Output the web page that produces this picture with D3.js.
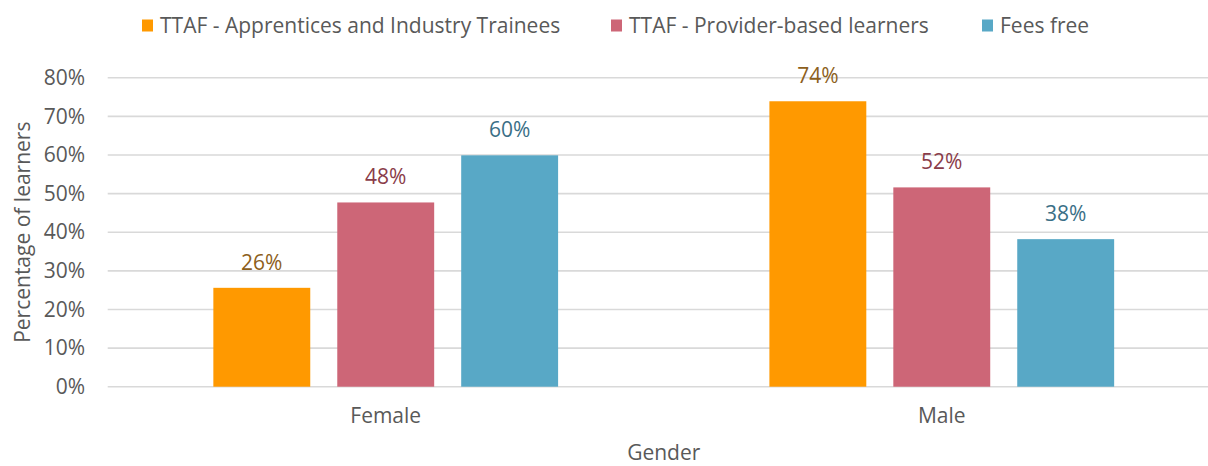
<!DOCTYPE html>
<html><head><meta charset="utf-8">
<script src="https://cdn.jsdelivr.net/npm/d3@7"></script>
<style>
html,body{margin:0;padding:0;background:#fff;}
svg{display:block;font-family:"Open Sans",sans-serif;}
</style></head>
<body><svg id="chart" width="1208" height="466"></svg>
<script>
const categories = ["Female", "Male"];
const seriesNames = ["TTAF - Apprentices and Industry Trainees", "TTAF - Provider-based learners", "Fees free"];
const apprentices = [0.256, 0.739];
const providerBased = [0.477, 0.516];
const feesFree = [0.599, 0.382];
const yTicks = [0, 0.1, 0.2, 0.3, 0.4, 0.5, 0.6, 0.7, 0.8];
const xTitle = "Gender";
const yTitle = "Percentage of learners";

const colors = ["#FF9900", "#CD6677", "#58A8C6"];
const labelColors = ["#8D5F1C", "#8A3C49", "#3A6F86"];
const seriesValues = [apprentices, providerBased, feesFree];

const FS = 21;
const svg = d3.select("#chart");
const W = 1208;
const mLeft = 107.7, mRight = 1219.8, mTop = 77.7, mBottom = 386.7;

const x0 = d3.scaleBand().domain(categories).range([mLeft, mRight]).padding(0);
const bw = x0.bandwidth();
const x1 = d3.scaleBand().domain(seriesNames).range([bw * 0.19, bw * 0.81]).paddingInner(0.218).paddingOuter(0);
const y = d3.scaleLinear().domain([0, 0.8]).range([mBottom, mTop]);

// gridlines
svg.append("g").selectAll("line").data(yTicks).join("line")
  .attr("x1", mLeft).attr("x2", W)
  .attr("y1", d => y(d)).attr("y2", d => y(d))
  .attr("stroke", "#D9D9D9").attr("stroke-width", 1.6);

// y axis labels
const yAxis = d3.axisLeft(y).tickValues(yTicks).tickFormat(d3.format(".0%")).tickSize(0).tickPadding(0);
const yg = svg.append("g").attr("transform", `translate(${85},0)`).call(yAxis);
yg.select(".domain").remove();
yg.selectAll("text").attr("font-size", FS).attr("fill", "#595959").attr("font-family", "Open Sans");

// x axis labels
const xAxis = d3.axisBottom(x0).tickSize(0).tickPadding(0);
const xg = svg.append("g").attr("transform", `translate(0,${404})`).call(xAxis);
xg.select(".domain").remove();
xg.selectAll("text").attr("font-size", FS).attr("fill", "#595959").attr("font-family", "Open Sans").attr("dy", "0.9em");

// bars
const flat = [];
categories.forEach((c, i) => seriesNames.forEach((s, j) => flat.push({c, s, j, v: seriesValues[j][i]})));
svg.append("g").selectAll("rect").data(flat).join("rect")
  .attr("x", d => x0(d.c) + x1(d.s))
  .attr("width", x1.bandwidth())
  .attr("y", d => y(d.v))
  .attr("height", d => y(0) - y(d.v))
  .attr("fill", d => colors[d.j]);

// value labels
svg.append("g").selectAll("text").data(flat).join("text")
  .attr("x", d => x0(d.c) + x1(d.s) + x1.bandwidth() / 2)
  .attr("y", d => y(d.v) - 18)
  .attr("text-anchor", "middle")
  .attr("font-size", FS)
  .attr("fill", d => labelColors[d.j])
  .text(d => d3.format(".0%")(d.v));

// axis titles
svg.append("text").attr("x", (mLeft + mRight) / 2).attr("y", 460)
  .attr("text-anchor", "middle").attr("font-size", FS).attr("fill", "#595959").text(xTitle);
svg.append("text").attr("transform", `translate(30,${(mTop + mBottom) / 2}) rotate(-90)`)
  .attr("text-anchor", "middle").attr("font-size", FS).attr("fill", "#595959").text(yTitle);

// legend
const legendX = [142, 611, 982];
const lg = svg.append("g").selectAll("g").data(seriesNames).join("g")
  .attr("transform", (d, i) => `translate(${legendX[i]},0)`);
lg.append("rect").attr("x", 0).attr("y", 19.5).attr("width", 11).attr("height", 12).attr("fill", (d, i) => colors[i]);
lg.append("text").attr("x", 18).attr("y", 33).attr("font-size", FS).attr("fill", "#595959").text(d => d);
</script></body></html>
